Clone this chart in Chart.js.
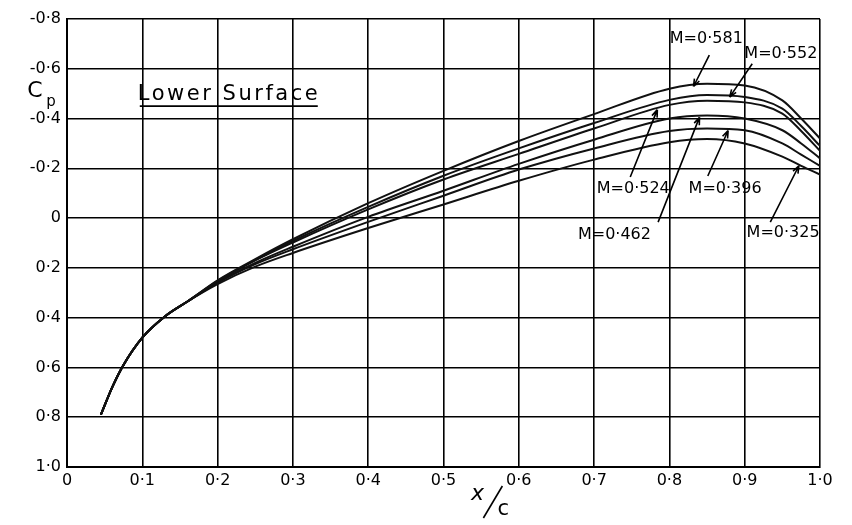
<!DOCTYPE html>
<html>
<head>
<meta charset="utf-8">
<title>Lower Surface Cp</title>
<script src="https://cdn.jsdelivr.net/npm/chart.js"></script>
<style>
  html, body { margin: 0; padding: 0; background: #fff; }
  #wrap { width: 852px; height: 525px; }
</style>
</head>
<body>
<div id="wrap"><canvas id="cpChart" width="852" height="525"></canvas></div>
<script>
// chordwise stations x/c
const xStations = [0.045, 0.06, 0.075, 0.1, 0.13, 0.16, 0.2, 0.25, 0.3, 0.4, 0.5, 0.6, 0.7, 0.8, 0.85, 0.9, 0.95, 0.975, 1.0];

// Cp, one list per Mach number
const cpM581 = [0.79, 0.68, 0.59, 0.48, 0.395, 0.335, 0.25, 0.165, 0.085, -0.06, -0.19, -0.31, -0.418, -0.52, -0.54, -0.533, -0.473, -0.40, -0.32];
const cpM552 = [0.79, 0.68, 0.59, 0.48, 0.395, 0.335, 0.252, 0.168, 0.092, -0.045, -0.17, -0.28, -0.382, -0.475, -0.495, -0.487, -0.44, -0.37, -0.29];
const cpM524 = [0.79, 0.68, 0.59, 0.48, 0.395, 0.335, 0.254, 0.17, 0.098, -0.035, -0.155, -0.258, -0.36, -0.455, -0.472, -0.465, -0.42, -0.35, -0.27];
const cpM462 = [0.79, 0.68, 0.59, 0.48, 0.395, 0.335, 0.258, 0.18, 0.115, -0.005, -0.11, -0.218, -0.315, -0.4, -0.412, -0.40, -0.353, -0.30, -0.24];
const cpM396 = [0.79, 0.68, 0.59, 0.48, 0.395, 0.335, 0.26, 0.185, 0.125, 0.015, -0.09, -0.195, -0.28, -0.35, -0.36, -0.353, -0.30, -0.255, -0.21];
const cpM325 = [0.79, 0.68, 0.59, 0.48, 0.395, 0.335, 0.265, 0.195, 0.14, 0.04, -0.055, -0.15, -0.235, -0.305, -0.318, -0.30, -0.247, -0.21, -0.175];

const machLabels = ['M=0·581', 'M=0·552', 'M=0·524', 'M=0·462', 'M=0·396', 'M=0·325'];
const machSeries = [cpM581, cpM552, cpM524, cpM462, cpM396, cpM325];

const xTickLabels = ['0', '0·1', '0·2', '0·3', '0·4', '0·5', '0·6', '0·7', '0·8', '0·9', '1·0'];
const yTickLabels = ['-0·8', '-0·6', '-0·4', '-0·2', '0', '0·2', '0·4', '0·6', '0·8', '1·0'];

// where each M label sits (data coords) and where its arrow points on the curve
const labelPlacement = [
    { tx: 0.849, ty: -0.722, sx: 0.853, sy: -0.655, tipX: 0.832 },
    { tx: 0.948, ty: -0.661, sx: 0.910, sy: -0.620, tipX: 0.880 },
    { tx: 0.752, ty: -0.117, sx: 0.748, sy: -0.165, tipX: 0.784 },
    { tx: 0.727, ty: 0.069, sx: 0.785, sy: 0.016, tipX: 0.840 },
    { tx: 0.874, ty: -0.117, sx: 0.851, sy: -0.169, tipX: 0.878 },
    { tx: 0.951, ty: 0.060, sx: 0.934, sy: 0.016, tipX: 0.972 }
];

const FONT = "'DejaVu Sans', sans-serif";

function interpCp(series, x) {
    for (let i = 0; i < xStations.length - 1; i++) {
        if (x >= xStations[i] && x <= xStations[i + 1]) {
            const t = (x - xStations[i]) / (xStations[i + 1] - xStations[i]);
            return series[i] + t * (series[i + 1] - series[i]);
        }
    }
    return series[series.length - 1];
}

function drawArrow(ctx, x1, y1, x2, y2) {
    ctx.beginPath();
    ctx.moveTo(x1, y1);
    ctx.lineTo(x2, y2);
    const ang = Math.atan2(y2 - y1, x2 - x1);
    const len = 8;
    ctx.moveTo(x2, y2);
    ctx.lineTo(x2 - len * Math.cos(ang - 0.35), y2 - len * Math.sin(ang - 0.35));
    ctx.moveTo(x2, y2);
    ctx.lineTo(x2 - len * Math.cos(ang + 0.35), y2 - len * Math.sin(ang + 0.35));
    ctx.stroke();
}

const annotationPlugin = {
    id: 'cpAnnotations',
    afterDatasetsDraw(chart) {
        const ctx = chart.ctx;
        const xs = chart.scales.x;
        const ys = chart.scales.y;
        const area = chart.chartArea;
        ctx.save();
        ctx.fillStyle = '#000';
        ctx.strokeStyle = '#000';
        ctx.lineWidth = 1.6;

        // Mach labels + arrows
        ctx.font = '16px ' + FONT;
        ctx.textAlign = 'center';
        ctx.textBaseline = 'middle';
        labelPlacement.forEach((p, i) => {
            ctx.fillText(machLabels[i], xs.getPixelForValue(p.tx), ys.getPixelForValue(p.ty));
            const tipY = interpCp(machSeries[i], p.tipX);
            drawArrow(ctx,
                xs.getPixelForValue(p.sx), ys.getPixelForValue(p.sy),
                xs.getPixelForValue(p.tipX), ys.getPixelForValue(tipY) + 1);
        });

        // "Lower Surface" with underline
        ctx.font = '21px ' + FONT;
        ctx.textAlign = 'left';
        ctx.textBaseline = 'alphabetic';
        const title = 'Lower Surface';
        const targetW = 180;
        const baseW = ctx.measureText(title).width;
        ctx.letterSpacing = ((targetW - baseW) / (title.length - 1)).toFixed(2) + 'px';
        const lx = xs.getPixelForValue(0.094);
        ctx.fillText(title, lx, ys.getPixelForValue(-0.476));
        ctx.letterSpacing = '0px';
        const uy = ys.getPixelForValue(-0.45);
        ctx.beginPath();
        ctx.moveTo(lx + 2, uy);
        ctx.lineTo(lx + targetW, uy);
        ctx.stroke();

        // Cp axis label
        ctx.textAlign = 'center';
        ctx.textBaseline = 'middle';
        ctx.font = '22px ' + FONT;
        const cpy = ys.getPixelForValue(-0.51);
        ctx.fillText('C', 35, cpy);
        ctx.font = '15px ' + FONT;
        ctx.fillText('p', 51, cpy + 11);

        // x/c axis label
        const cx = xs.getPixelForValue(0.545);
        ctx.font = 'italic 22px ' + FONT;
        ctx.fillText('x', cx, area.bottom + 27);
        ctx.beginPath();
        ctx.moveTo(cx + 6, area.bottom + 51);
        ctx.lineTo(cx + 25, area.bottom + 19);
        ctx.stroke();
        ctx.font = '21px ' + FONT;
        ctx.fillText('c', cx + 26, area.bottom + 43);
        ctx.restore();
    }
};

const datasets = machSeries.map((series, i) => ({
    label: machLabels[i],
    data: xStations.map((x, j) => ({ x: x, y: series[j] })),
    borderColor: '#111',
    borderWidth: 2,
    pointRadius: 0,
    fill: false,
    cubicInterpolationMode: 'monotone'
}));

new Chart(document.getElementById('cpChart'), {
    type: 'line',
    data: { datasets: datasets },
    options: {
        responsive: false,
        devicePixelRatio: 1,
        animation: false,
        layout: { padding: { top: 19, right: 32, left: 0, bottom: 0 } },
        plugins: {
            legend: { display: false },
            tooltip: { enabled: false }
        },
        scales: {
            x: {
                type: 'linear',
                min: 0,
                max: 1.0,
                afterFit: (scale) => { scale.height = 58; },
                afterBuildTicks: (scale) => {
                    scale.ticks = xTickLabels.map((_, i) => ({ value: i / 10 }));
                },
                grid: { color: '#000', lineWidth: 1.6, drawTicks: false },
                border: { color: '#000', width: 2 },
                ticks: {
                    padding: 4,
                    color: '#000',
                    font: { family: FONT, size: 16 },
                    maxRotation: 0,
                    callback: (value, index) => xTickLabels[index]
                }
            },
            y: {
                type: 'linear',
                reverse: true,
                min: -0.8,
                max: 1.0,
                afterFit: (scale) => { scale.width = 67; },
                afterBuildTicks: (scale) => {
                    scale.ticks = yTickLabels.map((_, i) => ({ value: -0.8 + i * 0.2 }));
                },
                grid: { color: '#000', lineWidth: 1.6, drawTicks: false },
                border: { color: '#000', width: 2 },
                ticks: {
                    padding: 6,
                    color: '#000',
                    font: { family: FONT, size: 16 },
                    callback: (value, index) => yTickLabels[index]
                }
            }
        }
    },
    plugins: [annotationPlugin]
});
</script>
</body>
</html>
